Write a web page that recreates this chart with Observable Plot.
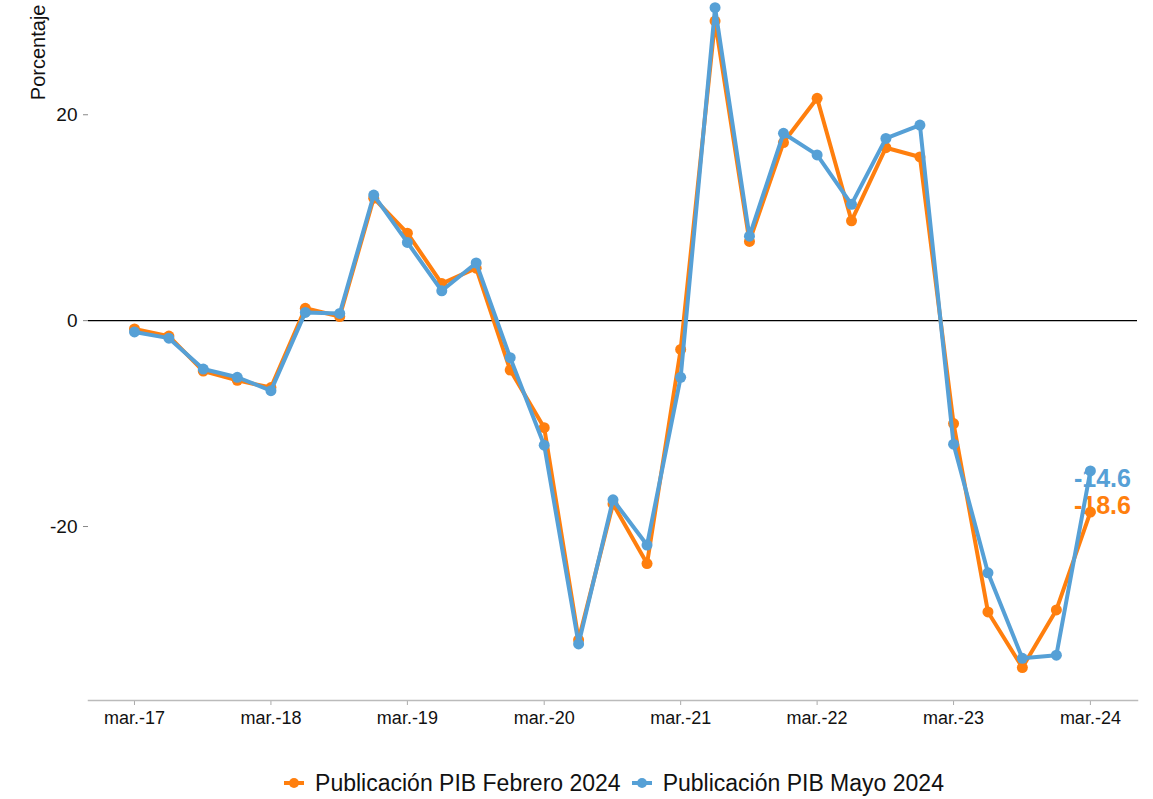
<!DOCTYPE html>
<html><head><meta charset="utf-8">
<script src="https://cdn.jsdelivr.net/npm/d3@7"></script>
<script src="https://cdn.jsdelivr.net/npm/@observablehq/plot@0.6"></script>
<style>
body{margin:0;background:#fff;font-family:"Liberation Sans",Arial,sans-serif;}
#chart svg{display:block}
#legend{display:flex;justify-content:center;align-items:center;padding-left:84px;padding-top:20px;line-height:26px;font-size:23px;color:#111;}
.item{display:flex;align-items:center;margin-right:10px}
.item svg{margin-right:10px}
</style></head><body><div id="chart"></div><div id="legend"></div>
<script>
const periods = ["2017-03","2017-06","2017-09","2017-12","2018-03","2018-06","2018-09","2018-12",
  "2019-03","2019-06","2019-09","2019-12","2020-03","2020-06","2020-09","2020-12",
  "2021-03","2021-06","2021-09","2021-12","2022-03","2022-06","2022-09","2022-12",
  "2023-03","2023-06","2023-09","2023-12","2024-03"];
const febrero = [-0.8,-1.5,-4.9,-5.8,-6.5,1.2,0.4,11.9,8.5,3.6,5.1,-4.8,-10.4,-31.0,-17.8,-23.6,
  -2.8,29.1,7.7,17.3,21.6,9.7,16.8,15.9,-10.0,-28.3,-33.7,-28.1,-18.6];
const mayo = [-1.1,-1.7,-4.7,-5.5,-6.8,0.8,0.7,12.2,7.6,2.9,5.6,-3.6,-12.1,-31.4,-17.4,-21.8,
  -5.5,30.4,8.2,18.2,16.1,11.3,17.7,19.0,-12.0,-24.5,-32.8,-32.5,-14.6];
const seriesNames = ["Publicación PIB Febrero 2024","Publicación PIB Mayo 2024"];
const colors = ["#FF7F0E","#56A0D6"];
const yTicks = [-20,0,20];
const xTicks = ["2017-03","2018-03","2019-03","2020-03","2021-03","2022-03","2023-03","2024-03"];
const yLabel = "Porcentaje";

const parse = d3.utcParse("%Y-%m");
const font = '"Liberation Sans", Arial, sans-serif';
const feb = periods.map((p,i)=>({date:parse(p), value:febrero[i], serie:seriesNames[0]}));
const may = periods.map((p,i)=>({date:parse(p), value:mayo[i], serie:seriesNames[1]}));
const fmt = d => String(d);

const chart = Plot.plot({
  width:1153, height:750, marginLeft:88, marginRight:16, marginTop:0, marginBottom:50,
  style:{fontFamily:font, fontSize:"16px", color:"#111", background:"#fff", overflow:"visible"},
  x:{type:"utc", domain:[new Date(Date.UTC(2016,9,29)), new Date(Date.UTC(2024,6,5))], label:null},
  y:{domain:[-36.9,31.1], label:null},
  marks:[
    Plot.axisY({ticks:yTicks, tickFormat:fmt, tickSize:5, tickPadding:6, stroke:"#888", fill:"#111", fontSize:19, label:null}),
    Plot.axisX({ticks:xTicks.map(parse), tickFormat:d=>"mar.-"+d3.utcFormat("%y")(d), tickSize:5, tickPadding:6, stroke:"#aaa", fill:"#111", fontSize:18, label:null}),
    Plot.frame({anchor:"bottom", stroke:"#bbb", strokeWidth:1.5}),
    Plot.ruleY([0], {stroke:"#000", strokeWidth:1.3}),
    Plot.text([yLabel], {text:d=>d, frameAnchor:"top-left", dx:-58, dy:4, rotate:-90, textAnchor:"end", fontSize:20, fill:"#111"}),
    Plot.text(may.slice(-1), {x:"date", y:"value", text:d=>d.value.toFixed(1), dx:12, dy:8, fill:colors[1], fontSize:25, fontWeight:"bold"}),
    Plot.text(feb.slice(-1), {x:"date", y:"value", text:d=>d.value.toFixed(1), dx:12, dy:-6, fill:colors[0], fontSize:25, fontWeight:"bold"}),
    Plot.line(feb, {x:"date", y:"value", stroke:colors[0], strokeWidth:4}),
    Plot.dot(feb, {x:"date", y:"value", fill:colors[0], r:5.5}),
    Plot.line(may, {x:"date", y:"value", stroke:colors[1], strokeWidth:4}),
    Plot.dot(may, {x:"date", y:"value", fill:colors[1], r:5.5})
  ]
});
document.getElementById("chart").append(chart);

const legend = document.getElementById("legend");
seriesNames.forEach((name,i)=>{
  const item = document.createElement("div");
  item.className = "item";
  item.innerHTML = `<svg width="22" height="16"><line x1="1" x2="21" y1="8" y2="8" stroke="${colors[i]}" stroke-width="4"/><circle cx="11" cy="8" r="5" fill="${colors[i]}"/></svg><span>${name}</span>`;
  legend.append(item);
});
</script></body></html>
